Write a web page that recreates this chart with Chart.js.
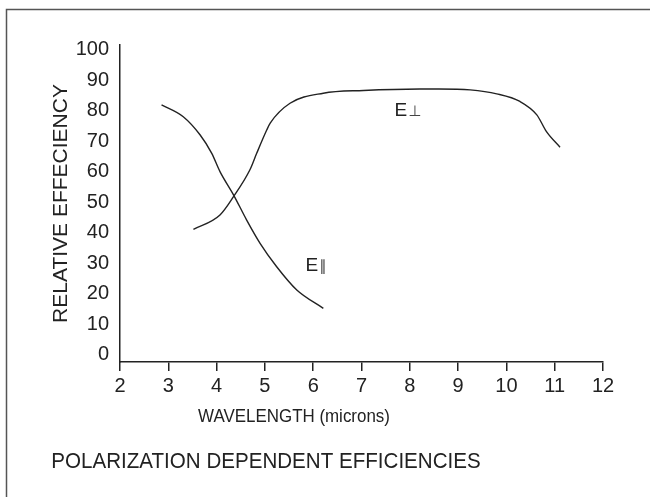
<!DOCTYPE html>
<html>
<head>
<meta charset="utf-8">
<script src="https://cdn.jsdelivr.net/npm/chart.js@4/dist/chart.umd.min.js"></script>
<style>
  html, body { margin: 0; padding: 0; background: #fff; }
  #wrap { width: 650px; height: 497px; }
</style>
</head>
<body>
<div id="wrap"><canvas id="c" width="650" height="497"></canvas></div>
<script>
// ---- data ----
const ePerpX = [3.52, 4.07, 4.35, 4.69, 4.83, 5.04, 5.11, 5.52, 6.21, 7.04, 8.21, 8.6, 9.25, 9.80, 10.28, 10.63, 10.83, 11.11];
const ePerpY = [41.2, 45.9, 51.9, 60.7, 66.1, 73.8, 76.0, 82.5, 85.8, 86.7, 87.2, 87.2, 86.9, 85.6, 83.1, 78.7, 73.2, 68.1];
const eParX  = [2.86, 3.31, 3.66, 3.90, 4.07, 4.35, 4.62, 4.90, 5.24, 5.66, 6.21];
const eParY  = [82.0, 78.1, 72.1, 66.1, 60.1, 52.5, 44.3, 36.6, 29.0, 21.3, 15.3];
const yTicks = [0, 10, 20, 30, 40, 50, 60, 70, 80, 90, 100];
const xTicks = [2, 3, 4, 5, 6, 7, 8, 9, 10, 11, 12];
const curveLabels = ['E\u22A5', 'E\u2225'];
const curveLabelX = [7.96, 6.06];
const curveLabelY = [80.0, 29.2];
const xTitle = 'WAVELENGTH (microns)';
const yTitle = 'RELATIVE EFFECIENCY';
const chartTitle = 'POLARIZATION DEPENDENT EFFICIENCIES';

const FONT = '"Liberation Sans", Arial, sans-serif';
const INK = '#222';

function pts(xs, ys) { return xs.map((x, i) => ({ x: x, y: ys[i] })); }

function squeezedText(ctx, text, cx, cy, font, sx) {
  ctx.save();
  ctx.font = font;
  ctx.textAlign = 'center';
  ctx.textBaseline = 'middle';
  ctx.translate(cx, cy);
  ctx.scale(sx, 1);
  ctx.fillText(text, 0, 0);
  ctx.restore();
}

const decor = {
  id: 'decor',
  beforeDraw(chart) {
    const ctx = chart.ctx;
    ctx.save();
    ctx.strokeStyle = '#555';
    ctx.lineWidth = 1.5;
    ctx.beginPath();
    ctx.moveTo(6.5, 497);
    ctx.lineTo(6.5, 9.5);
    ctx.lineTo(650, 9.5);
    ctx.stroke();
    ctx.restore();
  },
  afterDraw(chart) {
    const ctx = chart.ctx;
    const xs = chart.scales.x, ys = chart.scales.y;
    ctx.save();
    ctx.fillStyle = INK;
    ctx.textBaseline = 'middle';
    curveLabels.forEach((t, i) => {
      const px = xs.getPixelForValue(curveLabelX[i]);
      const py = ys.getPixelForValue(curveLabelY[i]);
      const e = t.charAt(0), s = t.slice(1);
      ctx.font = '19px ' + FONT;
      const we = ctx.measureText(e).width;
      ctx.font = '15px "DejaVu Sans", sans-serif';
      const ws = ctx.measureText(s).width;
      const x0 = px - (we + ws + 1) / 2;
      ctx.textAlign = 'left';
      ctx.font = '19px ' + FONT;
      ctx.fillStyle = INK;
      ctx.fillText(e, x0, py);
      ctx.font = '15px "DejaVu Sans", sans-serif';
      ctx.fillStyle = '#444';
      ctx.fillText(s, x0 + we + 1, py + 1);
    });
    ctx.fillStyle = INK;
    squeezedText(ctx, xTitle, 294, 417, '18px ' + FONT, 0.94);
    squeezedText(ctx, chartTitle, 266, 462, '22px ' + FONT, 0.935);
    ctx.restore();
  }
};

new Chart(document.getElementById('c'), {
  type: 'line',
  data: {
    datasets: [
      { label: 'E perp', data: pts(ePerpX, ePerpY), borderColor: INK, borderWidth: 1.4,
        pointRadius: 0, fill: false, cubicInterpolationMode: 'monotone' },
      { label: 'E par', data: pts(eParX, eParY), borderColor: INK, borderWidth: 1.4,
        pointRadius: 0, fill: false, cubicInterpolationMode: 'monotone' }
    ]
  },
  options: {
    responsive: false,
    animation: false,
    layout: { padding: { top: 45, right: 47, left: 0, bottom: 0 } },
    plugins: { legend: { display: false }, tooltip: { enabled: false }, title: { display: false } },
    scales: {
      x: {
        type: 'linear', min: 2, max: 12,
        afterBuildTicks(s) { s.ticks = xTicks.map(v => ({ value: v })); },
        afterFit(s) { s.height = 135; },
        grid: { display: true, drawOnChartArea: false, drawTicks: true, tickLength: 9, color: INK, lineWidth: 1.5 },
        border: { display: true, color: INK, width: 1.5 },
        ticks: { color: INK, font: { family: FONT, size: 20 }, padding: 3, maxRotation: 0, autoSkip: false }
      },
      y: {
        type: 'linear', min: -2.3, max: 101.6,
        afterBuildTicks(s) { s.ticks = yTicks.map(v => ({ value: v })); },
        afterFit(s) { s.width = 120; },
        grid: { display: false, drawTicks: false },
        border: { display: true, color: INK, width: 1.5 },
        title: { display: true, text: yTitle, color: INK, font: { family: FONT, size: 21 }, padding: { top: 49, bottom: 0 } },
        ticks: { color: INK, font: { family: FONT, size: 20 }, padding: 11, autoSkip: false }
      }
    }
  },
  plugins: [decor]
});
</script>
</body>
</html>
